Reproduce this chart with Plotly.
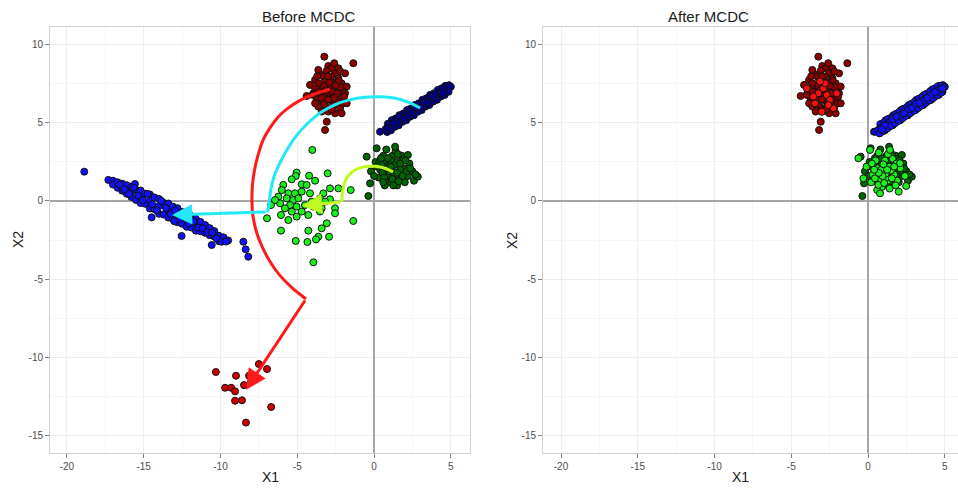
import plotly.graph_objects as go

# ---- cluster coordinates (X1, X2) ----
# original clusters
red_x = [-2.98, -2.76, -3.08, -2.54, -3.52, -3.30, -2.32, -1.89, -3.84, -3.63,
         -3.19, -2.76, -2.11, -1.78, -4.17, -3.84, -3.41, -2.98, -2.54, -2.11,
         -3.95, -3.52, -3.08, -2.65, -2.21, -1.89, -3.73, -3.30, -2.87, -2.43,
         -2.00, -3.63, -3.08, -2.65, -2.21, -2.98, -2.54, -3.41, -2.11, -3.84,
         -2.80, -2.43, -3.24, -2.93, -3.63, -2.32, -2.59, -2.00,
         -3.24, -1.35, -4.39, -1.78, -3.08, -3.19,
         -2.70, -3.10, -2.40, -2.90, -3.40, -2.60, -3.00, -2.30,
         -3.70, -2.20, -4.00, -1.95, -3.25, -2.75, -3.60, -2.20, -3.00, -2.50]
red_y = [8.65, 8.50, 8.35, 8.18, 8.14, 7.97, 7.86, 8.18, 7.76, 7.54,
         7.65, 7.65, 7.54, 7.33, 7.44, 7.22, 7.12, 7.22, 7.22, 7.12,
         6.90, 6.73, 6.79, 6.79, 6.73, 6.90, 6.47, 6.37, 6.47, 6.37,
         6.47, 6.05, 6.00, 6.09, 5.94, 5.73, 5.62, 5.73, 5.62, 6.26,
         7.97, 7.54, 7.37, 6.94, 8.40, 8.50, 8.83, 6.26,
         9.25, 8.83, 6.73, 6.26, 5.08, 4.55,
         7.00, 7.10, 6.90, 7.60, 6.60, 6.60, 8.00, 7.70,
         8.00, 8.30, 6.80, 6.70, 6.20, 5.85, 7.00, 7.30, 6.50, 7.40]

navy_x = [0.39,
          0.90, 1.15, 1.40, 1.65, 1.90, 2.15, 2.40, 2.65, 2.90, 3.15, 3.40, 3.65, 3.90, 4.15, 4.40, 4.65, 4.88,
          0.75, 1.00, 1.25, 1.50, 1.75, 2.00, 2.25, 2.50, 2.75, 3.00, 3.25, 3.50, 3.75, 4.00, 4.25, 4.50, 4.75, 5.00,
          0.85, 1.10, 1.35, 1.60, 1.85, 2.10, 2.35, 2.60, 2.85, 3.10, 3.35, 3.60, 3.85, 4.10, 4.35, 4.60, 4.85,
          1.05, 1.55, 2.05, 2.45, 2.95, 3.30, 3.70, 4.20, 4.55, 0.95,
          1.70, 2.20, 2.70, 3.50, 4.00, 4.45, 1.30, 1.95, 3.05, 3.85]
navy_y = [4.44,
          4.95, 5.18, 5.28, 5.50, 5.60, 5.83, 5.93, 6.15, 6.25, 6.48, 6.58, 6.80, 6.90, 7.12, 7.22, 7.38, 7.42,
          4.61, 4.80, 4.90, 5.13, 5.23, 5.45, 5.55, 5.78, 5.88, 6.10, 6.20, 6.43, 6.53, 6.75, 6.85, 7.08, 7.18, 7.32,
          4.42, 4.53, 4.75, 4.85, 5.07, 5.18, 5.40, 5.50, 5.72, 5.83, 6.05, 6.15, 6.37, 6.48, 6.70, 6.80, 7.00,
          4.92, 5.10, 5.55, 5.70, 6.20, 6.30, 6.62, 6.85, 7.22, 4.62,
          5.40, 5.42, 6.00, 6.30, 6.86, 6.92, 4.98, 5.28, 5.98, 6.70]

dgreen_x = [1.15, 0.70, 1.50, 0.90, 1.60, 0.40, 1.90, 1.20, 0.60, 1.80,
            0.30, 2.20, 1.00, 1.50, 0.70, 2.30, 0.10, 1.30, 0.95, 1.70,
            0.55, 2.00, 1.40, 0.80, 2.50, -0.20, 2.60, 1.10, 0.35, 1.95,
            0.75, 2.20, -0.37, 2.85, -0.48, 0.17, 1.37, -0.26,
            1.00, 1.30, 0.80, 1.50, 1.20, 0.50, 1.70, 1.10, 2.10, 0.65,
            0.20, 0.60, 1.85, 2.35, 1.55, 0.45, 1.25, 2.05, 0.00, 0.90, 1.60, 2.70]
dgreen_y = [2.05, 2.40, 2.50, 1.60, 1.50, 2.00, 2.10, 2.90, 2.90, 2.90,
            1.50, 1.60, 1.20, 1.00, 1.00, 2.40, 2.50, 1.70, 2.25, 2.00,
            1.80, 1.20, 3.20, 3.30, 1.90, 1.90, 1.30, 2.60, 2.50, 2.70,
            1.35, 2.95, 0.32, 1.56, 2.84, 3.38, 3.48, 1.13,
            1.90, 2.30, 2.10, 1.80, 1.40, 2.30, 2.40, 2.20, 1.90, 1.50,
            2.20, 1.20, 1.60, 2.10, 3.00, 2.75, 1.00, 2.60, 1.60, 2.75, 1.25, 1.70]

# displaced clusters (before correction)
blue_x = [-18.87, -17.3, -17.0, -17.0, -16.7, -16.7, -16.4, -16.4, -16.4, -16.1, -16.1,
          -15.8, -15.8, -15.8, -15.5, -15.5, -15.2, -15.2, -15.2, -14.9, -14.9,
          -14.6, -14.6, -14.6, -14.3, -14.3, -14.0, -14.0, -14.0, -13.7, -13.7,
          -13.4, -13.4, -13.4, -13.1, -13.1, -12.8, -12.8, -12.8, -12.5, -12.5,
          -12.2, -12.2, -12.2, -11.9, -11.9, -11.6, -11.6, -11.6, -11.3, -11.3,
          -11.0, -11.0, -10.7, -10.7, -10.4, -10.4, -10.1, -10.1, -9.8, -9.5,
          -15.57, -12.53, -10.57, -8.51, -8.36, -8.19, -9.92, -14.48,
          -16.55, -16.25, -15.95, -15.65, -15.35, -15.05, -14.75, -14.45, -14.15, -13.85,
          -13.55, -13.25, -12.95, -12.65, -12.35, -12.05, -11.75, -11.45, -11.15, -10.85,
          -10.55, -10.25, -9.65, -13.0, -12.0]
blue_y = [1.88, 1.35, 1.30, 1.05, 1.20, 0.85, 1.11, 0.66, 0.86, 1.01, 0.46,
          0.91, 0.26, 0.61, 0.72, 0.07, 0.67, 0.27, -0.13, 0.47, -0.18,
          0.42, 0.02, -0.48, 0.23, -0.52, 0.13, -0.32, -0.82, -0.12, -0.87,
          -0.16, -0.56, -1.06, -0.36, -1.16, -0.46, -0.91, -1.36, -0.71, -1.46,
          -0.80, -1.20, -1.65, -1.05, -1.70, -1.15, -1.50, -1.90, -1.34, -1.94,
          -1.54, -2.04, -1.74, -2.19, -1.93, -2.28, -2.23, -2.58, -2.33, -2.53,
          1.09, -2.24, -2.82, -2.61, -3.10, -3.57, -2.61, -1.05,
          1.05, 0.75, 0.45, 0.85, 0.35, 0.05, 0.45, -0.20, -0.60, 0.00,
          -0.45, -0.85, -0.60, -1.15, -0.95, -1.45, -1.30, -1.70, -1.75, -2.00,
          -2.05, -2.40, -2.60, -1.30, -0.90]

lgreen_x = [-4.02, -3.02, -5.04, -5.10, -4.23, -5.36, -3.84, -4.71, -4.39, -2.87,
            -2.32, -1.52, -5.91, -6.01, -5.58, -5.15, -4.17, -3.30, -6.23, -5.69,
            -5.26, -4.93, -3.52, -2.87, -6.71, -6.12, -5.47, -5.04, -4.50, -3.95,
            -3.41, -2.54, -6.06, -5.58, -5.04, -4.28, -3.52, -2.54, -6.97, -1.35,
            -3.08, -3.41, -6.06, -4.28, -3.63, -3.78, -5.10, -4.34, -2.93, -3.95,
            -4.71, -4.06, -3.73, -3.19, -5.36, -4.71, -6.45, -5.80]
lgreen_y = [3.27, 1.77, 1.82, 1.60, 1.62, 1.39, 1.30, 1.07, 1.03, 0.81,
            0.81, 0.70, 1.03, 0.70, 0.49, 0.49, 0.49, 0.49, 0.28, 0.17,
            0.06, 0.17, 0.17, 0.11, -0.26, -0.15, -0.26, -0.36, -0.26, -0.36,
            -0.47, -0.47, -0.90, -1.22, -1.00, -0.90, -0.68, -0.79, -1.11, -1.28,
            -1.43, -1.75, -1.90, -1.90, -2.29, -2.46, -2.56, -2.63, -2.29, -3.93,
            0.60, -0.04, -0.15, -0.04, -0.68, -0.68, 0.06, -0.47]

lred_x = [-10.3, -7.5, -6.97, -8.99, -8.14, -9.7, -9.3, -9.05, -8.47, -9.05, -8.6, -6.7, -8.34]
lred_y = [-10.96, -10.45, -10.77, -11.2, -11.2, -11.97, -11.97, -12.2, -11.8, -12.8, -12.77, -13.2, -14.2]

# displaced clusters after correction
ared_x = [-2.91, -3.24, -2.69, -3.45, -2.26, -3.99, -2.48, -3.02, -2.80, -2.04, -3.56, -3.13, -2.58]
ared_y = [7.22, 6.90, 6.79, 6.26, 5.94, 7.22, 6.47, 5.72, 7.54, 6.90, 6.69, 7.65, 6.15]

ablue_x = [0.46,
           0.80, 1.05, 1.30, 1.55, 1.80, 2.05, 2.30, 2.55, 2.80, 3.05, 3.30, 3.55, 3.80, 4.05, 4.30, 4.55, 4.80,
           0.65, 0.90, 1.15, 1.40, 1.65, 1.90, 2.15, 2.40, 2.65, 2.90, 3.15, 3.40, 3.65, 3.90, 4.15, 4.40, 4.65, 4.95,
           0.75, 1.00, 1.25, 1.50, 1.75, 2.00, 2.25, 2.50, 2.75, 3.00, 3.25, 3.50, 3.75, 4.00, 4.25, 4.50, 4.75,
           1.10, 1.60, 2.10, 2.60, 3.10, 3.60, 4.10, 4.60, 0.90, 1.85, 2.35, 2.85, 3.35, 3.85, 4.35, 4.85]
ablue_y = [4.44,
           4.92, 5.05, 5.25, 5.38, 5.57, 5.72, 5.90, 6.03, 6.22, 6.38, 6.55, 6.70, 6.87, 7.03, 7.20, 7.35, 7.40,
           4.54, 4.70, 4.87, 5.03, 5.19, 5.36, 5.52, 5.68, 5.84, 6.01, 6.17, 6.33, 6.49, 6.66, 6.82, 6.98, 7.14, 7.30,
           4.33, 4.49, 4.65, 4.82, 4.98, 5.14, 5.30, 5.47, 5.63, 5.79, 5.95, 6.12, 6.28, 6.44, 6.60, 6.77, 6.93,
           4.85, 5.25, 5.48, 5.85, 6.22, 6.42, 6.80, 7.10, 4.58, 5.40, 5.62, 5.95, 6.28, 6.60, 6.98, 7.22]

agreen_x = [1.0, 0.6, 1.4, 0.8, 1.3, 0.3, 1.7, 1.1, 0.5, 1.6,
            0.2, 1.9, 0.9, 1.4, 0.6, 2.1, -0.1, 1.2, 0.85, 1.5,
            0.45, 1.8, 1.3, 0.7, 2.4, -0.3, 2.48, 1.0, 0.25, 1.85,
            0.78, -0.63, 1.43, 0.13, 2.08, 0.67, 1.15, 0.95, 1.25, 0.7,
            1.55, 1.05, 0.4, 1.7, 2.0]
agreen_y = [1.8, 2.1, 2.2, 1.4, 1.3, 1.7, 1.7, 2.6, 2.6, 2.7,
            1.2, 1.3, 0.9, 0.8, 0.7, 2.1, 2.2, 1.5, 2.0, 1.95,
            1.45, 1.0, 3.0, 3.1, 1.6, 1.45, 0.96, 2.35, 2.4, 2.4,
            0.49, 2.74, 3.27, 3.27, 2.42, 1.03, 1.75, 1.6, 2.0, 1.8,
            1.45, 1.15, 2.0, 2.2, 0.6]

# ---- correction paths: curved part, then a straight run to the arrow tip ----
red_arc_x = [-2.87, -3.9, -4.82, -5.6, -6.23, -6.8, -7.23, -7.55, -7.78, -7.92, -7.95,
             -7.88, -7.65, -7.3, -6.8, -6.15, -5.35, -4.43]
red_arc_y = [7.16, 6.85, 6.45, 5.95, 5.4, 4.65, 3.9, 2.95, 2.0, 1.0, 0.0,
             -1.0, -2.0, -2.9, -3.85, -4.75, -5.55, -6.28]
red_tip = (-8.34, -12.1)
cyan_arc_x = [3.0, 2.3, 1.4, 0.4, -0.6, -1.6, -2.6, -3.5, -4.3, -5.0, -5.6, -6.1,
              -6.5, -6.72, -6.84, -6.9, -6.97]
cyan_arc_y = [5.96, 6.3, 6.58, 6.68, 6.65, 6.48, 6.15, 5.65, 5.0, 4.25, 3.4, 2.5,
              1.6, 0.7, -0.2, -0.55, -0.7]
cyan_tip = (-13.16, -0.9)
lime_arc_x = [1.24, 0.7, 0.1, -0.6, -1.25, -1.76, -2.0, -2.08, -2.1]
lime_arc_y = [1.86, 2.1, 2.22, 2.2, 1.98, 1.5, 0.9, 0.3, -0.06]
lime_tip = (-4.7, -0.3)

ticks_x = [-20, -15, -10, -5, 0, 5]
ticks_y = [-15, -10, -5, 0, 5, 10]
minor_x = [-17.5, -12.5, -7.5, -2.5, 2.5]
minor_y = [-12.5, -7.5, -2.5, 2.5, 7.5]

C_DRED, C_LRED, C_RED = "#8c0000", "#cc0000", "#ff1010"
C_NAVY, C_BLUE = "#00008c", "#1010ff"
C_DGREEN, C_GREEN = "#006400", "#1cf01c"
C_ARROW_RED, C_ARROW_CYAN, C_ARROW_LIME = "#ff1a1a", "#22e8f8", "#c2fb22"
FONT = "Liberation Sans, Arial, sans-serif"

fig = go.Figure()


def pts(x, y, color, ax):
    fig.add_trace(go.Scatter(
        x=x, y=y, mode="markers", xaxis=ax[0], yaxis=ax[1], hoverinfo="skip",
        marker=dict(size=7, color=color, line=dict(color="#111111", width=1))))


def path(x, y, color, ax):
    fig.add_trace(go.Scatter(
        x=x, y=y, mode="lines", xaxis=ax[0], yaxis=ax[1], hoverinfo="skip",
        line=dict(color=color, width=3, shape="spline", smoothing=0.8)))


L = ("x", "y")
R = ("x2", "y2")

# Before panel
pts(blue_x, blue_y, C_BLUE, L)
pts(lred_x, lred_y, C_LRED, L)
pts(red_x, red_y, C_DRED, L)
pts(navy_x, navy_y, C_NAVY, L)
pts(dgreen_x, dgreen_y, C_DGREEN, L)
pts(lgreen_x, lgreen_y, C_GREEN, L)
path(red_arc_x, red_arc_y, C_ARROW_RED, L)
path(cyan_arc_x, cyan_arc_y, C_ARROW_CYAN, L)
path(lime_arc_x, lime_arc_y, C_ARROW_LIME, L)

# After panel
pts(red_x, red_y, C_DRED, R)
pts(ared_x, ared_y, C_RED, R)
pts(navy_x, navy_y, C_NAVY, R)
pts(ablue_x, ablue_y, C_BLUE, R)
pts(dgreen_x, dgreen_y, C_DGREEN, R)
pts(agreen_x, agreen_y, C_GREEN, R)

annotations = []
for arc_x, arc_y, tip, col in [(red_arc_x, red_arc_y, red_tip, C_ARROW_RED),
                               (cyan_arc_x, cyan_arc_y, cyan_tip, C_ARROW_CYAN),
                               (lime_arc_x, lime_arc_y, lime_tip, C_ARROW_LIME)]:
    annotations.append(dict(
        x=tip[0], y=tip[1], ax=arc_x[-1], ay=arc_y[-1],
        xref="x", yref="y", axref="x", ayref="y", text="",
        showarrow=True, arrowhead=2, arrowsize=1.35, arrowwidth=3,
        arrowcolor=col, standoff=0, startstandoff=0))

# panel titles and axis titles
for cx, label in [(0.2313, "Before MCDC"), (0.7715, "After MCDC")]:
    annotations.append(dict(x=cx, y=1.0235, xref="paper", yref="paper", text=label,
                            showarrow=False, yanchor="middle",
                            font=dict(family=FONT, size=15, color="#1a1a1a")))
    annotations.append(dict(x=cx, y=-0.057, xref="paper", yref="paper", text="X1",
                            showarrow=False, yanchor="middle",
                            font=dict(family=FONT, size=14, color="#1a1a1a")))
for cx in [-0.0352, 0.5088]:
    annotations.append(dict(x=cx, y=0.5, xref="paper", yref="paper", text="X2",
                            showarrow=False, textangle=-90, xanchor="center",
                            font=dict(family=FONT, size=14, color="#1a1a1a")))


def axis(rng, tv, mv, domain, anchor):
    return dict(
        range=rng, domain=domain, anchor=anchor,
        tickmode="array", tickvals=tv, ticktext=[str(v) for v in tv],
        ticks="outside", ticklen=4, tickwidth=1, tickcolor="#7f7f7f",
        tickfont=dict(family=FONT, size=10, color="#4d4d4d"),
        showgrid=True, gridcolor="#eeeeee", gridwidth=1,
        minor=dict(tickvals=mv, showgrid=True, gridcolor="#f6f6f6", ticks=""),
        zeroline=True, zerolinecolor="#a6a6a6", zerolinewidth=2,
        showline=True, mirror=True, linecolor="#cfcfcf", linewidth=1)


fig.update_layout(
    width=958, height=491,
    margin=dict(l=50, r=0, t=27, b=38),
    paper_bgcolor="white", plot_bgcolor="white",
    showlegend=False,
    xaxis=axis([-21.1, 6.25], ticks_x, minor_x, [0, 0.4626], "y"),
    yaxis=axis([-16.15, 11.15], ticks_y, minor_y, [0, 1], "x"),
    xaxis2=axis([-21.17, 5.86], ticks_x, minor_x, [0.5430, 1.0], "y2"),
    yaxis2=axis([-16.15, 11.15], ticks_y, minor_y, [0, 1], "x2"),
    annotations=annotations,
)

fig.write_html("out.html")
